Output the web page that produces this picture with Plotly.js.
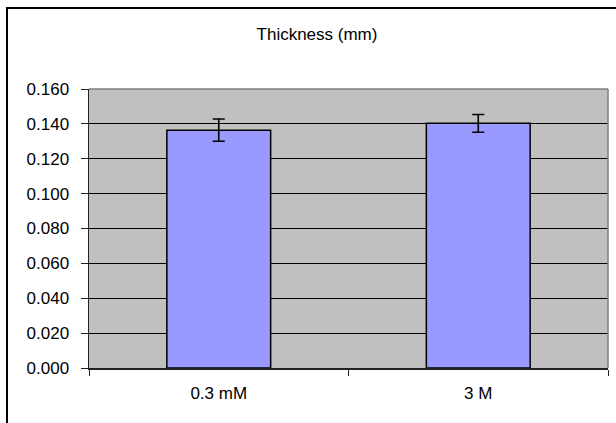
<!DOCTYPE html>
<html>
<head>
<meta charset="utf-8">
<script src="https://cdn.plot.ly/plotly-3.0.1.min.js"></script>
<style>
  html, body { margin: 0; padding: 0; background: #ffffff; overflow: hidden; }
  #frame { position: absolute; left: 6px; top: 7px; width: 700px; height: 600px;
           border-left: 2px solid #000; border-top: 2px solid #000; }
  #chart { position: absolute; left: 0; top: 0; width: 616px; height: 423px; }
</style>
</head>
<body>
<div id="frame"></div>
<div id="chart"></div>
<script>
const categories = ["0.3 mM", "3 M"];
const thickness = [0.1364, 0.1403];
const errors = [0.0064, 0.0051];
const yTickValues = [0, 0.02, 0.04, 0.06, 0.08, 0.10, 0.12, 0.14, 0.16];

const trace = {
  type: "bar",
  x: categories,
  y: thickness,
  marker: { color: "#9999FF", line: { color: "#000000", width: 1.5 } },
  error_y: { type: "data", array: errors, visible: true, color: "#000000", thickness: 1.6, width: 6 },
  hoverinfo: "none"
};

const FONT = "Liberation Sans, Arial, sans-serif";

const layout = {
  width: 616,
  height: 423,
  margin: { l: 89, r: 8, t: 89, b: 55 },
  paper_bgcolor: "rgba(0,0,0,0)",
  plot_bgcolor: "#C0C0C0",
  bargap: 0.6,
  showlegend: false,
  font: { family: FONT, size: 17, color: "#000000" },
  title: {
    text: "Thickness (mm)",
    font: { family: FONT, size: 17, color: "#000000" },
    x: 317 / 616, xref: "container", xanchor: "center",
    y: 1 - 34 / 423, yref: "container", yanchor: "middle"
  },
  xaxis: {
    type: "category",
    showgrid: false,
    zeroline: false,
    showline: true,
    linecolor: "#222222",
    linewidth: 2,
    ticks: "outside",
    tickson: "boundaries",
    ticklen: 6,
    tickcolor: "#222222",
    tickwidth: 1,
    ticklabelstandoff: 9,
    tickfont: { size: 17 }
  },
  yaxis: {
    range: [0, 0.16],
    tickvals: yTickValues,
    tickformat: ".3f",
    showgrid: true,
    gridcolor: "#000000",
    gridwidth: 1,
    zeroline: false,
    showline: true,
    linecolor: "#222222",
    linewidth: 1.5,
    ticks: "outside",
    ticklen: 7,
    tickcolor: "#222222",
    ticklabelstandoff: 8,
    tickfont: { size: 17 }
  },
  shapes: [
    { type: "line", xref: "paper", yref: "paper", x0: 0, x1: 1, y0: 1, y1: 1,
      line: { color: "#808080", width: 1.5 }, layer: "above" },
    { type: "line", xref: "paper", yref: "paper", x0: 1, x1: 1, y0: 0, y1: 1,
      line: { color: "#808080", width: 1.5 }, layer: "above" }
  ]
};

Plotly.newPlot("chart", [trace], layout, { staticPlot: true, displayModeBar: false });
</script>
</body>
</html>
